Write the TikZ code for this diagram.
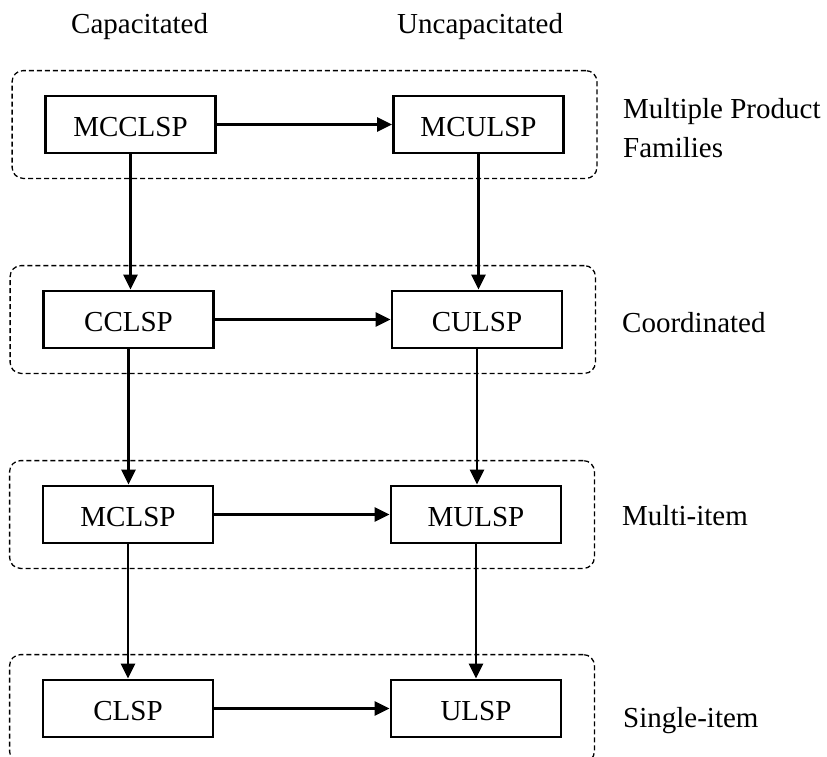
\documentclass[tikz,border=0pt]{standalone}
\usepackage{fontspec}
\setmainfont{Liberation Serif}
\usetikzlibrary{arrows.meta,fit}
\begin{document}
\begin{tikzpicture}[x=1pt,y=-1pt,
  every node/.style={font=\fontsize{29}{34}\selectfont},
  probbox/.style={draw,line width=2.8pt,minimum width=170pt,minimum height=57pt,inner sep=0pt,text height=23pt,text depth=0pt},
  link/.style={line width=2.6pt,-{Triangle[length=15pt,width=14pt]}},
  groupbox/.style={draw,dashed,line width=1.3pt,dash pattern=on 5pt off 3pt,rounded corners=11pt,inner xsep=32pt,inner ysep=24pt},
  lab/.style={anchor=base west,inner sep=0pt}]
\useasboundingbox (0,0) rectangle (827,756);
% top labels
\node[lab] (capl) at (71,33) {Capacitated};
\node[lab] (uncapl) at (397,33) {Uncapacitated};
% problem boxes
\node[probbox] (MCCLSP) at (130.5,124.5) {MCCLSP};
\node[probbox] (MCULSP) at (478.5,124.5) {MCULSP};
\node[probbox] (CCLSP) at (128.5,319.5) {CCLSP};
\node[probbox] (CULSP) at (477,319.5) {CULSP};
\node[probbox] (MCLSP) at (128,514.5) {MCLSP};
\node[probbox] (MULSP) at (476,514.5) {MULSP};
\node[probbox] (CLSP) at (128,708.5) {CLSP};
\node[probbox] (ULSP) at (476,708.5) {ULSP};
% group boxes
\node[groupbox,fit=(MCCLSP)(MCULSP)] (g1) {};
\node[groupbox,fit=(CCLSP)(CULSP)] (g2) {};
\node[groupbox,fit=(MCLSP)(MULSP)] (g3) {};
\node[groupbox,fit=(CLSP)(ULSP)] (g4) {};
% right labels
\node[lab] (l1a) at (623,118) {Multiple Product};
\node[lab] (l1b) at (623,157) {Families};
\node[lab] (l2) at (622,332) {Coordinated};
\node[lab] (l3) at (622,525) {Multi-item};
\node[lab] (l4) at (623,727) {Single-item};
% horizontal arrows
\draw[link] (MCCLSP) -- (MCULSP);
\draw[link] (CCLSP) -- (CULSP);
\draw[link] (MCLSP) -- (MULSP);
\draw[link] (CLSP) -- (ULSP);
% vertical arrows
\draw[link] (MCCLSP.south) -- (MCCLSP.south |- CCLSP.north);
\draw[link] (MCULSP.south) -- (MCULSP.south |- CULSP.north);
\draw[link] (CCLSP.south) -- (CCLSP.south |- MCLSP.north);
\draw[link] (CULSP.south) -- (CULSP.south |- MULSP.north);
\draw[link] (MCLSP.south) -- (MCLSP.south |- CLSP.north);
\draw[link] (MULSP.south) -- (MULSP.south |- ULSP.north);
\end{tikzpicture}
\end{document}
